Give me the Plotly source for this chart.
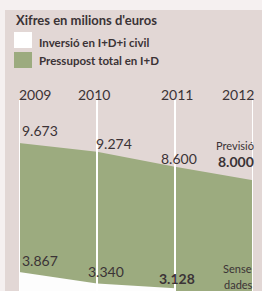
import plotly.graph_objects as go

years = [2009, 2010, 2011, 2012]
total_budget = [9673, 9274, 8600, 8000]
civil_years = [2009, 2010, 2011]
civil_invest = [3867, 3340, 3128]
year_labels = ["2009", "2010", "2011", "2012"]
total_labels = ["9.673", "9.274", "8.600", "8.000"]
civil_labels = ["3.867", "3.340", "3.128"]

W, H = 262, 291
L, R, T, B = 19, 9, 100, 0
PW, PH = W - L - R, H - T - B

GREEN = "#9cab7f"
PINK = "#e2d7d5"
LIGHT = "#f5f0f0"
TXT = "#3b3336"
FONT = "Lato"

def px(x):
    return (x - L) / PW

def py(y):
    return (H - B - y) / PH

fig = go.Figure()
fig.add_trace(go.Scatter(x=years, y=total_budget, mode="lines", fill="tozeroy",
                         fillcolor=GREEN, line=dict(width=0, color=GREEN),
                         name="Pressupost total en I+D", hoverinfo="skip"))
fig.add_trace(go.Scatter(x=civil_years, y=civil_invest, mode="lines", fill="tozeroy",
                         fillcolor="#fdfdfd", line=dict(width=0, color="#fdfdfd"),
                         name="Inversió en I+D+i civil", hoverinfo="skip"))

shapes = []
shapes.append(dict(type="rect", xref="paper", yref="paper", x0=px(0), x1=px(W), y0=py(10), y1=py(0),
                   fillcolor=LIGHT, line=dict(width=0), layer="below"))
shapes.append(dict(type="rect", xref="paper", yref="paper", x0=px(0), x1=px(5), y0=py(H), y1=py(0),
                   fillcolor=LIGHT, line=dict(width=0), layer="below"))
for yr in years:
    shapes.append(dict(type="line", xref="x", yref="paper", x0=yr, x1=yr, y0=0, y1=1,
                       line=dict(color="white", width=2), layer="above"))
shapes.append(dict(type="rect", xref="paper", yref="paper", x0=px(14), x1=px(32), y0=py(48), y1=py(32),
                   fillcolor="white", line=dict(width=0)))
shapes.append(dict(type="rect", xref="paper", yref="paper", x0=px(14), x1=px(32), y0=py(68), y1=py(52),
                   fillcolor=GREEN, line=dict(width=0)))

ann = []
def A(text, x, y, xref="x", yref="y", xanchor="center", yanchor="middle", xshift=0, yshift=0,
      size=14, bold=False, color=TXT):
    if bold:
        text = "<b>" + text + "</b>"
    ann.append(dict(text=text, x=x, y=y, xref=xref, yref=yref, xanchor=xanchor, yanchor=yanchor,
                    xshift=xshift, yshift=yshift, showarrow=False,
                    font=dict(family=FONT, size=size, color=color)))

A("Xifres en milions d'euros", px(14), py(20), "paper", "paper", xanchor="left", size=13, bold=True)
A("Inversió en I+D+i civil", px(37), py(42), "paper", "paper", xanchor="left", size=11.5, bold=True)
A("Pressupost total en I+D", px(37), py(61), "paper", "paper", xanchor="left", size=11.5, bold=True)

yl_anchor = ["left", "center", "center", "right"]
yl_shift = [-2, -3, 2, 3]
for yr, lab, xa, xs in zip(years, year_labels, yl_anchor, yl_shift):
    A(lab, yr, 1, "x", "paper", xanchor=xa, xshift=xs, yshift=6, size=14)

A(total_labels[0], years[0], total_budget[0], xanchor="left", xshift=1, yshift=13, size=14)
A(total_labels[1], years[1], total_budget[1], xanchor="left", xshift=-3, yshift=8, size=14)
A(total_labels[2], years[2], total_budget[2], xanchor="center", xshift=4, yshift=8, size=14)
A("Previsió", years[3], total_budget[3], xanchor="right", xshift=3, yshift=35, size=11)
A(total_labels[3], years[3], total_budget[3], xanchor="right", xshift=3, yshift=19, size=14, bold=True)

A(civil_labels[0], civil_years[0], civil_invest[0], xanchor="left", xshift=1, yshift=11, size=14)
A(civil_labels[1], civil_years[1], civil_invest[1], xanchor="left", xshift=-11, yshift=12, size=14)
A(civil_labels[2], civil_years[2], civil_invest[2], xanchor="center", xshift=2, yshift=10, size=14, bold=True)
A("Sense", years[3], py(268), "x", "paper", xanchor="right", xshift=1, size=11)
A("dades", years[3], py(284), "x", "paper", xanchor="right", xshift=2, size=11)

fig.update_layout(
    width=W, height=H,
    margin=dict(l=L, r=R, t=T, b=B, pad=0),
    paper_bgcolor=PINK, plot_bgcolor=PINK,
    showlegend=False,
    xaxis=dict(range=[2009, 2012], visible=False, fixedrange=True),
    yaxis=dict(range=[3006, 11610], visible=False, fixedrange=True),
    shapes=shapes, annotations=ann,
)

fig.write_html("out.html", config={"displayModeBar": False},
               post_script=["document.body.style.margin='0';document.body.style.overflow='hidden';"])
